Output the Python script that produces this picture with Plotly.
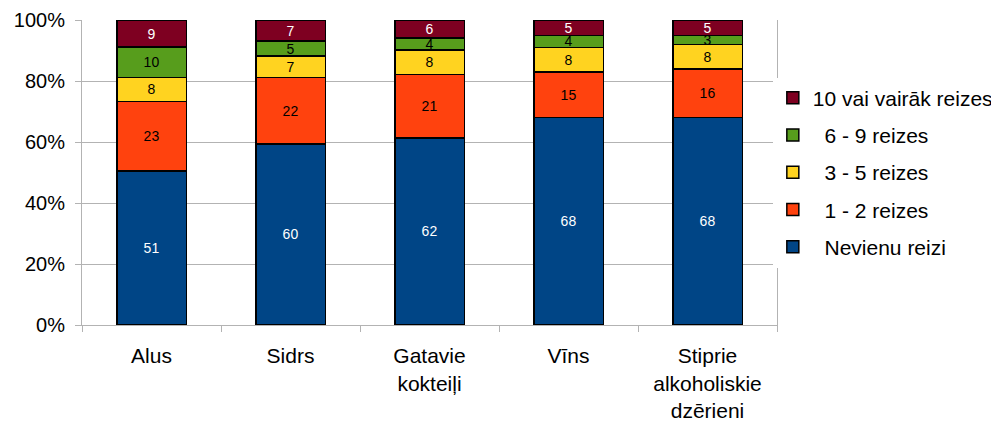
import plotly.graph_objects as go

categories = ["Alus", "Sidrs", "Gatavie<br>kokteiļi", "Vīns", "Stiprie<br>alkoholiskie<br>dzērieni"]
series_names = ["Nevienu reizi", "1 - 2 reizes", "3 - 5 reizes", "6 - 9 reizes", "10 vai vairāk reizes"]
nevienu = [51, 60, 62, 68, 68]
r1_2 = [23, 22, 21, 15, 16]
r3_5 = [8, 7, 8, 8, 8]
r6_9 = [10, 5, 4, 4, 3]
r10 = [9, 7, 6, 5, 5]
y_ticks = [0, 20, 40, 60, 80, 100]
y_tick_labels = ["0%", "20%", "40%", "60%", "80%", "100%"]

series = [nevienu, r1_2, r3_5, r6_9, r10]
colors = ["#004586", "#ff420e", "#ffd320", "#579d1c", "#7e0021"]
text_colors = ["white", "black", "black", "black", "white"]
legend_labels = ["\u00a0\u00a0" + n for n in series_names[:4]] + [series_names[4]]

FONT = "Liberation Sans, Arial, sans-serif"

fig = go.Figure()
for i, vals in enumerate(series):
    fig.add_trace(go.Bar(
        x=categories, y=vals, name=legend_labels[i],
        marker=dict(color=colors[i], line=dict(color="black", width=1.5)),
        text=[str(v) for v in vals], textposition="inside", insidetextanchor="middle",
        textangle=0, textfont=dict(color=text_colors[i], size=14, family=FONT),
        legendgroup=str(i), legendrank=5 - i, cliponaxis=False,
    ))

fig.update_layout(
    barmode="stack", barnorm="percent", bargap=0.5,
    width=999, height=425,
    margin=dict(l=74, r=230, t=12, b=108, autoexpand=False),
    plot_bgcolor="white", paper_bgcolor="white",
    font=dict(family=FONT, size=20, color="black"),
    uniformtext=dict(minsize=14, mode="show"),
    legend=dict(x=0.994, xanchor="left", y=0.5, yanchor="middle",
                traceorder="grouped", tracegroupgap=7,
                font=dict(size=21, family=FONT), itemwidth=30),
    showlegend=True,
)
fig.update_xaxes(
    showline=True, linecolor="#b3b3b3", linewidth=1, automargin=False,
    ticks="outside", tickson="boundaries", ticklen=6, tickcolor="#b3b3b3",
    tickfont=dict(size=21, family=FONT), showgrid=False, ticklabelstandoff=12,
)
fig.update_yaxes(
    range=[0, 100], tickvals=y_ticks, ticktext=y_tick_labels, automargin=False,
    showgrid=True, gridcolor="#b3b3b3", gridwidth=1,
    showline=True, linecolor="#b3b3b3", mirror=True,
    ticks="outside", ticklen=6, tickcolor="#b3b3b3",
    tickfont=dict(size=20, family=FONT), zeroline=False, ticklabelstandoff=6,
)

fig.write_html("out.html")
